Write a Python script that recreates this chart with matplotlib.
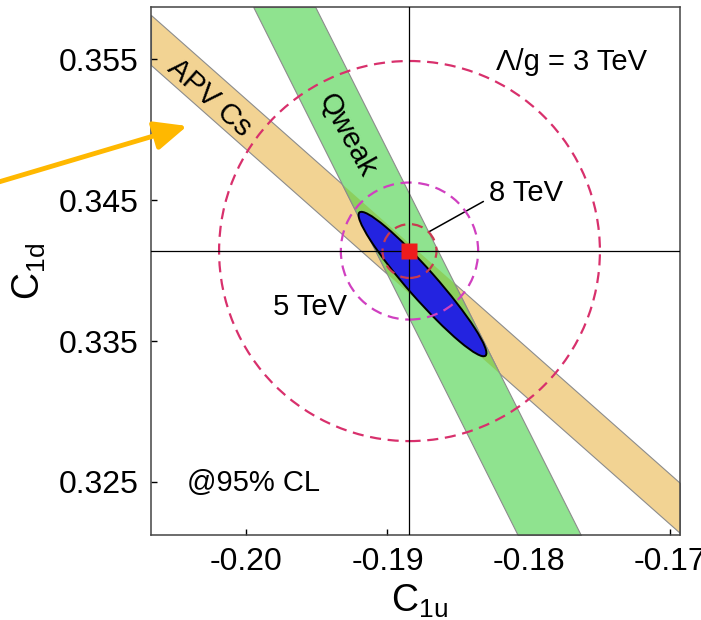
import numpy as np
import matplotlib
matplotlib.use("Agg")
import matplotlib.pyplot as plt
from matplotlib.patches import Ellipse, Circle

plt.rcParams["font.family"] = ["Liberation Sans", "DejaVu Sans"]
plt.rcParams["mathtext.fontset"] = "custom"
plt.rcParams["mathtext.rm"] = "Liberation Sans"
plt.rcParams["mathtext.it"] = "Liberation Sans:italic"

# APV Cs band: upper / lower edge at both x ends of the frame
apv_x = [-0.20674, -0.16929]
apv_hi = [0.35812, 0.32493]
apv_lo = [0.35457, 0.32138]

# Qweak band: left / right x edge at top and bottom of the frame
qw_y = [0.35869, 0.32124]
qw_left = [-0.19950, -0.18078]
qw_right = [-0.19511, -0.17631]

# combined 95% CL ellipse
fit_center = (-0.18752, 0.33904)
fit_width = 0.01352
fit_height = 0.00203
fit_angle = -48.7

# standard model point
sm_point = (-0.18844, 0.34138)

# Lambda/g reach circles
reach_tev = [3, 5, 8]
reach_radius = [0.01348, 0.00486, 0.00191]
reach_colors = ["#D8306C", "#D040C0", "#C83A50"]

xticks = [-0.20, -0.19, -0.18, -0.17]
xticklabels = ["-0.20", "-0.19", "-0.18", "-0.17"]
yticks = [0.325, 0.335, 0.345, 0.355]
yticklabels = ["0.325", "0.335", "0.345", "0.355"]

fig = plt.figure(figsize=(7.01, 6.20), dpi=100)
ax = fig.add_axes([151 / 701, 85 / 620, 529 / 701, 528 / 620])

# bands
apv = ax.fill_between(apv_x, apv_lo, apv_hi, facecolor="#F2D393",
                      edgecolor="#8C8C8C", lw=0.8, zorder=1)
ax.fill_betweenx(qw_y, qw_left, qw_right, facecolor="#8FE38F",
                 edgecolor="#8C8C8C", lw=0.8, zorder=2)
overlap = ax.fill_betweenx(qw_y, qw_left, qw_right, facecolor="#8CCF5E",
                           edgecolor="#8C8C8C", lw=0.8, zorder=3)
overlap.set_clip_path(apv.get_paths()[0], ax.transData)

ell = Ellipse(fit_center, fit_width, fit_height, angle=fit_angle,
              facecolor="#2323E0", edgecolor="black", lw=1.4, zorder=4)
ax.add_patch(ell)

for r, c in zip(reach_radius, reach_colors):
    ax.add_patch(Circle(sm_point, r, fill=False, ec=c, lw=1.6,
                        ls=(0, (5, 3)), zorder=5))

ax.axvline(sm_point[0], color="black", lw=0.9, zorder=6)
ax.axhline(sm_point[1], color="black", lw=0.9, zorder=6)
ax.plot(*sm_point, marker="s", ms=12, color="#EE1C1C", mec="none", zorder=7)

# labels
ax.text(-0.18234, 0.35479, "\u039b/g = 3 TeV", fontsize=21, ha="left", va="center")
ax.annotate("8 TeV", xy=(-0.18709, 0.34273), xytext=(-0.18284, 0.34550),
            fontsize=21, ha="left", va="center",
            arrowprops=dict(arrowstyle="-", color="black", lw=1.1,
                            shrinkA=2, shrinkB=0, relpos=(0, 0.3)))
ax.text(-0.19809, 0.33741, "5 TeV", fontsize=21, ha="left", va="center")
ax.text(-0.20418, 0.32493, "@95% CL", fontsize=21, ha="left", va="center")
ax.text(-0.20262, 0.35223, "APV Cs", fontsize=21, rotation=-41.6,
        ha="center", va="center", rotation_mode="anchor")
ax.text(-0.19284, 0.34961, "Qweak", fontsize=21, rotation=-61,
        ha="center", va="center", rotation_mode="anchor")

ax.set_xlim(-0.20674, -0.16929)
ax.set_ylim(0.32124, 0.35869)
ax.set_xticks(xticks)
ax.set_xticklabels(xticklabels)
ax.set_yticks(yticks)
ax.set_yticklabels(yticklabels)
ax.tick_params(direction="in", length=4.5, width=1, labelsize=23, pad=9,
               top=False, right=False)
for s in ax.spines.values():
    s.set_color("#444444")
    s.set_linewidth(1.1)

ax.set_xlabel(r"C$_{\rm 1u}$", fontsize=27)
ax.set_ylabel(r"C$_{\rm 1d}$", fontsize=27)
ax.xaxis.set_label_coords(0.507, -0.090)
ax.yaxis.set_label_coords(-0.195, 0.50)

# orange pointer arrow from outside the frame
ax.annotate("", xy=(-0.20418, 0.35025), xytext=(-0.03, 0.697),
            textcoords="figure fraction", annotation_clip=False,
            arrowprops=dict(arrowstyle="-|>,head_length=0.9,head_width=0.4",
                            color="#FFB800", lw=3.5, mutation_scale=22,
                            shrinkA=0, shrinkB=0), zorder=10)

fig.savefig("out.png", dpi=100)
